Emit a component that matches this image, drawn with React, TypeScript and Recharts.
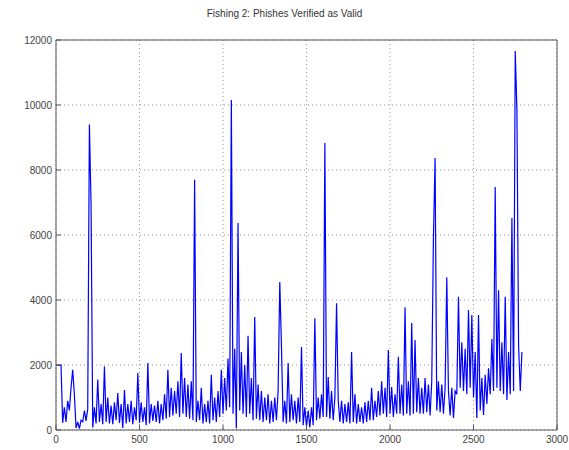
import React from "react";
import {
  CartesianGrid,
  Line,
  LineChart,
  ReferenceLine,
  XAxis,
  YAxis,
} from "recharts";

// Step between samples on the x axis (message index).
const STEP = 10;

// Count of valid phishes, one row per 100 samples.
const VALID_COUNTS = [
  2000, 2000, 1990, 2000, 220, 700, 250, 900, 600, 1300,
  1850, 1100, 60, 250, 40, 300, 250, 600, 280, 650,
  9400, 6900, 80, 700, 200, 1550, 250, 800, 180, 1950,
  250, 1000, 200, 750, 180, 850, 300, 1140, 220, 800,
  60, 1230, 200, 800, 250, 900, 180, 700, 300, 1750,
  220, 850, 250, 700, 150, 2060, 200, 800, 280, 750,
  250, 900, 200, 800, 300, 1100, 350, 1850, 400, 1300,
  450, 1200, 500, 1500, 400, 2370, 500, 1600, 400, 1400,
  350, 1500, 300, 7700, 250, 900, 300, 1300, 200, 800,
  250, 900, 200, 1700, 300, 1000, 250, 1200, 400, 1850,
  500, 1600, 600, 2200, 700, 10150, 500, 2500, 50, 6370,
  600, 2400, 500, 2000, 400, 2900, 500, 1600, 300, 3480,
  350, 1400, 300, 1200, 250, 1000, 300, 1100, 200, 900,
  250, 1000, 300, 1200, 4550, 2600, 250, 900, 200, 2060,
  250, 1100, 300, 900, 200, 1000, 250, 2550, 150, 700,
  100, 600, 80, 700, 150, 3440, 300, 1000, 350, 1100,
  400, 8830, 400, 1630, 350, 1200, 300, 1000, 3900, 900,
  250, 900, 200, 800, 250, 850, 200, 2400, 250, 1100,
  200, 800, 250, 700, 200, 850, 250, 900, 300, 1300,
  300, 900, 400, 1200, 450, 1500, 500, 1300, 400, 2460,
  500, 1320, 400, 1100, 500, 2250, 500, 1400, 450, 3780,
  500, 1500, 450, 3290, 500, 2770, 550, 1600, 500, 1300,
  500, 1600, 550, 1400, 450, 1500, 5900, 8370, 600, 1500,
  550, 1400, 500, 1300, 4700, 1200, 450, 1300, 370, 1200,
  1100, 4100, 1300, 2700, 1200, 2500, 1100, 3690, 1300, 3540,
  1000, 2400, 370, 3540, 600, 1600, 460, 1700, 800, 1900,
  1100, 2800, 1200, 7480, 1300, 4300, 1200, 2700, 1100, 4100,
  920, 2400, 1100, 6520, 1200, 11660, 9850, 2600, 1200, 2400,
];

const X_TICKS = [0, 500, 1000, 1500, 2000, 2500, 3000];
const Y_TICKS = [0, 2000, 4000, 6000, 8000, 10000, 12000];

const data = VALID_COUNTS.map((v, i) => ({ n: i * STEP, count: v }));

const FONT = "'Liberation Sans', Arial, sans-serif";
const AXIS = "#555";

// MATLAB-style ticks: short marks pointing into the plot box.
function BottomTick({ x, y, payload }: any) {
  return (
    <g>
      <line x1={x} y1={y} x2={x} y2={y - 5} stroke={AXIS} />
      <text x={x} y={y + 13} textAnchor="middle" fontSize={10} fill="#444" fontFamily={FONT}>
        {payload.value}
      </text>
    </g>
  );
}

function LeftTick({ x, y, payload }: any) {
  return (
    <g>
      <line x1={x} y1={y} x2={x + 5} y2={y} stroke={AXIS} />
      <text x={x - 4} y={y + 3.5} textAnchor="end" fontSize={10} fill="#444" fontFamily={FONT}>
        {payload.value}
      </text>
    </g>
  );
}

function TopTick({ x, y }: any) {
  return <line x1={x} y1={y} x2={x} y2={y + 5} stroke={AXIS} />;
}

function RightTick({ x, y }: any) {
  return <line x1={x} y1={y} x2={x - 5} y2={y} stroke={AXIS} />;
}

export default function App() {
  return (
    <div
      style={{
        position: "absolute",
        left: 0,
        top: 0,
        width: 569,
        height: 450,
        background: "#fff",
      }}
    >
      <div
        style={{
          position: "absolute",
          top: 8,
          width: 569,
          textAlign: "center",
          fontFamily: FONT,
          fontSize: 10,
          color: "#333",
        }}
      >
        Fishing 2: Phishes Verified as Valid
      </div>
      <LineChart
        width={569}
        height={450}
        data={data}
        margin={{ top: 40, right: 12, bottom: 0, left: 0 }}
      >
        <CartesianGrid stroke="#999" strokeDasharray="1 3" />
        <XAxis
          dataKey="n"
          type="number"
          domain={[0, 3000]}
          ticks={X_TICKS}
          height={20}
          tickSize={0}
          tickMargin={0}
          axisLine={{ stroke: AXIS }}
          tick={<BottomTick />}
          interval={0}
        />
        <XAxis
          xAxisId="top"
          orientation="top"
          dataKey="n"
          type="number"
          domain={[0, 3000]}
          ticks={X_TICKS}
          height={0}
          tickSize={0}
          tickMargin={0}
          axisLine={{ stroke: AXIS }}
          tick={<TopTick />}
          interval={0}
        />
        <YAxis
          type="number"
          domain={[0, 12000]}
          ticks={Y_TICKS}
          width={56}
          tickSize={0}
          tickMargin={0}
          axisLine={{ stroke: AXIS }}
          tick={<LeftTick />}
          interval={0}
        />
        <YAxis
          yAxisId="right"
          orientation="right"
          type="number"
          domain={[0, 12000]}
          ticks={Y_TICKS}
          width={0}
          tickSize={0}
          tickMargin={0}
          axisLine={{ stroke: AXIS }}
          tick={<RightTick />}
          interval={0}
        />
        <ReferenceLine x={3000} stroke={AXIS} />
        <ReferenceLine y={12000} stroke={AXIS} />
        <Line
          type="linear"
          dataKey="count"
          stroke="#0000ff"
          strokeWidth={1.2}
          dot={false}
          isAnimationActive={false}
        />
      </LineChart>
    </div>
  );
}
